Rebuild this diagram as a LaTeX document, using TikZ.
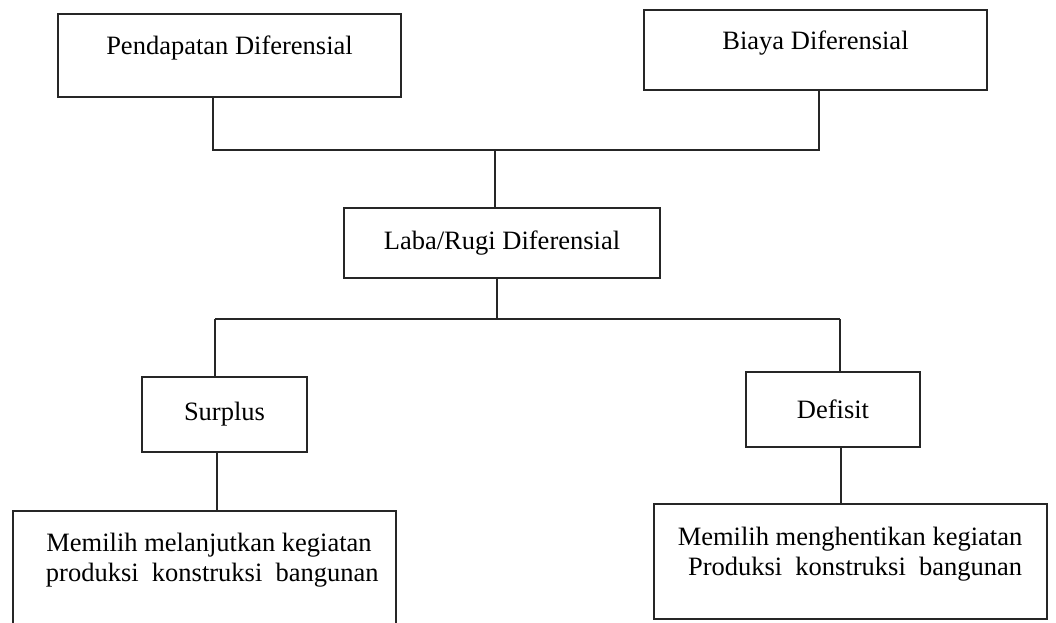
\documentclass[tikz,border=0pt]{standalone}
\usepackage{fontspec}
\setmainfont{Liberation Serif}
\begin{document}
\begin{tikzpicture}[x=1pt,y=-1pt,
  box/.style={draw=black!85, line width=1.5pt, inner sep=0pt, rectangle},
  conn/.style={draw=black!85, line width=1.5pt},
  txt/.style={inner sep=0pt, align=center, font=\fontsize{26.5}{30}\selectfont}]
\useasboundingbox (0,0) rectangle (1056,622);
\clip (0,0) rectangle (1056,622);
\fill[white] (0,0) rectangle (1056,622);
% boxes
\node[box, minimum width=343pt, minimum height=83pt,
  label={[txt,yshift=8pt]center:Pendapatan Diferensial}] (pend) at (229.5,55.5) {};
\node[box, minimum width=343pt, minimum height=80pt,
  label={[txt,yshift=7pt]center:Biaya Diferensial}] (bia) at (815.5,50) {};
\node[box, minimum width=316pt, minimum height=70pt, txt] (laba) at (502,243) {Laba/Rugi Diferensial};
\node[box, minimum width=165pt, minimum height=75pt, txt] (surp) at (224.5,414.5) {Surplus};
\node[box, minimum width=174pt, minimum height=75pt, txt] (def) at (833,409.5) {Defisit};
\node[box, minimum width=383pt, minimum height=129pt] (left) at (204.5,575.5) {};
\node[box, minimum width=393pt, minimum height=115pt] (right) at (850.5,561.5) {};
\node[txt] (lefttxt) at (209,560) {Memilih melanjutkan kegiatan\\ \ produksi\ \ konstruksi\ \ bangunan};
\node[txt, align=right] (righttxt) at (850,554) {Memilih menghentikan kegiatan\\ Produksi\ \ konstruksi\ \ bangunan};
% junctions
\coordinate (j1) at (213,150);
\coordinate (j2) at (819,150);
\coordinate (j3) at (495,150);
\coordinate (j4) at (497,319);
\coordinate (j5) at (215,319);
\coordinate (j6) at (840,319);
% connectors
\draw[conn] (pend.south -| j1) -- (j1) -- (j2) -- (bia.south -| j2);
\draw[conn] (j3) -- (laba.north -| j3);
\draw[conn] (laba.south -| j4) -- (j4);
\draw[conn] (j5) -- (j6);
\draw[conn] (j5) -- (surp.north -| j5);
\draw[conn] (j6) -- (def.north -| j6);
\draw[conn] (surp.south -| 217,0) -- (left.north -| 217,0);
\draw[conn] (def.south -| 841,0) -- (right.north -| 841,0);
\end{tikzpicture}
\end{document}
